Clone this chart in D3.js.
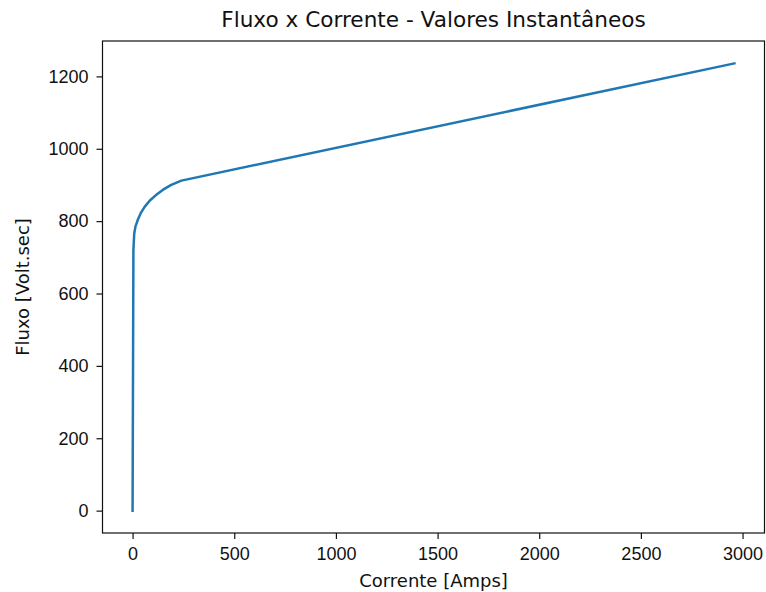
<!DOCTYPE html>
<html>
<head>
<meta charset="utf-8">
<script src="https://cdn.jsdelivr.net/npm/d3@7"></script>
<style>
  body { margin: 0; background: #fff; }
  svg { display: block; font-family: "DejaVu Sans", sans-serif; }
  .tick text { font-size: 18px; fill: #111; }
  .tick line { stroke: #111; stroke-width: 1.2; }
</style>
</head>
<body>
<svg id="chart" width="766" height="592"></svg>
<script>
// Flux vs current (instantaneous values) magnetization curve
const current = [0, 4, 8, 14, 25, 40, 60, 85, 115, 150, 190, 240, 2960];
const flux = [0, 720, 765, 785, 803, 822, 840, 857, 872, 887, 900, 912, 1236];
const xTicks = [0, 500, 1000, 1500, 2000, 2500, 3000];
const yTicks = [0, 200, 400, 600, 800, 1000, 1200];

const data = current.map((c, i) => ({ c, f: flux[i] }));

const width = 766, height = 592;
const margin = { top: 41, right: 1.5, bottom: 59, left: 102.5 };

const svg = d3.select("#chart");

// matplotlib-like 5% padding around data
const xMin = d3.min(current), xMax = d3.max(current);
const yMin = d3.min(flux), yMax = d3.max(flux);
const xPad = (xMax - xMin) * 0.05, yPad = (yMax - yMin) * 0.05;

const x = d3.scaleLinear()
  .domain([xMin - xPad, xMax + xPad])
  .range([margin.left, width - margin.right]);

const y = d3.scaleLinear()
  .domain([yMin - yPad, yMax + yPad])
  .range([height - margin.bottom, margin.top]);

const line = d3.line()
  .x(d => x(d.c))
  .y(d => y(d.f));

svg.append("path")
  .datum(data)
  .attr("fill", "none")
  .attr("stroke", "#1f77b4")
  .attr("stroke-width", 2.5)
  .attr("stroke-linejoin", "round")
  .attr("stroke-linecap", "square")
  .attr("d", line);

// X axis
svg.append("g")
  .attr("transform", `translate(0,${height - margin.bottom})`)
  .call(d3.axisBottom(x).tickValues(xTicks).tickSize(6).tickPadding(8).tickFormat(d3.format("d")))
  .call(g => g.select(".domain").remove());

// Y axis
svg.append("g")
  .attr("transform", `translate(${margin.left},0)`)
  .call(d3.axisLeft(y).tickValues(yTicks).tickSize(6).tickPadding(8).tickFormat(d3.format("d")))
  .call(g => g.select(".domain").remove());

// Frame
svg.append("rect")
  .attr("x", margin.left)
  .attr("y", margin.top)
  .attr("width", width - margin.left - margin.right)
  .attr("height", height - margin.top - margin.bottom)
  .attr("fill", "none")
  .attr("stroke", "#111")
  .attr("stroke-width", 1.2);

// Title
svg.append("text")
  .attr("x", (margin.left + width - margin.right) / 2)
  .attr("y", 27)
  .attr("text-anchor", "middle")
  .style("font-size", "21.6px")
  .style("fill", "#111")
  .text("Fluxo x Corrente - Valores Instantâneos");

// X axis label
svg.append("text")
  .attr("x", (margin.left + width - margin.right) / 2)
  .attr("y", 587)
  .attr("text-anchor", "middle")
  .style("font-size", "18px")
  .style("fill", "#111")
  .text("Corrente [Amps]");

// Y axis label
svg.append("text")
  .attr("transform", "rotate(-90)")
  .attr("x", -(margin.top + height - margin.bottom) / 2)
  .attr("y", 28.5)
  .attr("text-anchor", "middle")
  .style("font-size", "18px")
  .style("fill", "#111")
  .text("Fluxo [Volt.sec]");
</script>
</body>
</html>
